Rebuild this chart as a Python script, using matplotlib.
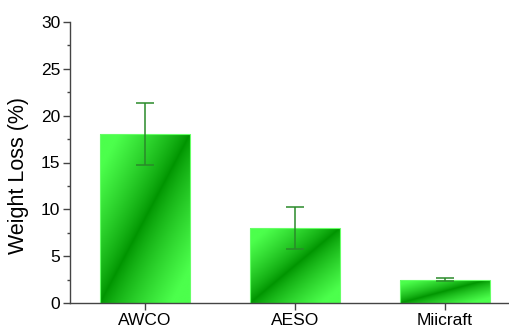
import numpy as np
import matplotlib.pyplot as plt
from matplotlib.colors import LinearSegmentedColormap

# datos
categories = ["AWCO", "AESO", "Miicraft"]
weight_loss = [18.0, 8.0, 2.5]
errors = [3.3, 2.2, 0.2]

plt.rcParams['font.family'] = ['Liberation Sans', 'DejaVu Sans']

fig = plt.figure(figsize=(5.09, 3.28), dpi=100)
ax = fig.add_axes([70 / 509, 25 / 328, 450 / 509, 281 / 328])

x = np.arange(len(categories))
bars = ax.bar(x, weight_loss, width=0.6, color='none', edgecolor='#66ff66',
              linewidth=0.8, zorder=2)

# relleno con degradado diagonal (claro en las esquinas, oscuro en la diagonal)
cmap = LinearSegmentedColormap.from_list('verde', ['#009400', '#4cff4c'])
u, v = np.meshgrid(np.linspace(0, 1, 200), np.linspace(0, 1, 200))
grad = np.clip(np.abs(u - v) ** 0.8 * 1.2, 0, 1)
for b in bars:
    x0, y0, w, h = b.get_x(), b.get_y(), b.get_width(), b.get_height()
    im = ax.imshow(grad, cmap=cmap, origin='lower', aspect='auto',
                   extent=[x0, x0 + w, y0, y0 + h], zorder=1)
    im.set_clip_path(b)

ax.errorbar(x, weight_loss, yerr=errors, fmt='none', ecolor='#2a8a2a',
            elinewidth=1.1, capsize=6.5, capthick=1.1, zorder=3)

ax.set_xlim(-0.5, 2.5)
ax.set_ylim(0, 30)
ax.set_xticks(x)
ax.set_xticklabels(categories)
ax.set_yticks(np.arange(0, 31, 5))
ax.set_yticks(np.arange(0, 30, 2.5), minor=True)
ax.set_ylabel("Weight Loss (%)", fontsize=15.5)
ax.yaxis.set_label_coords(-0.09, 0.455)

ax.spines['top'].set_visible(False)
ax.spines['right'].set_visible(False)
for s in ['left', 'bottom']:
    ax.spines[s].set_color('#444444')
    ax.spines[s].set_linewidth(1.0)
ax.tick_params(axis='both', which='major', length=5, width=1, color='#444444',
               labelsize=12.5, pad=2)
ax.tick_params(axis='y', which='minor', length=2.5, width=1, color='#444444')
ax.tick_params(axis='x', which='minor', bottom=False)

fig.savefig("out.png", dpi=100)
